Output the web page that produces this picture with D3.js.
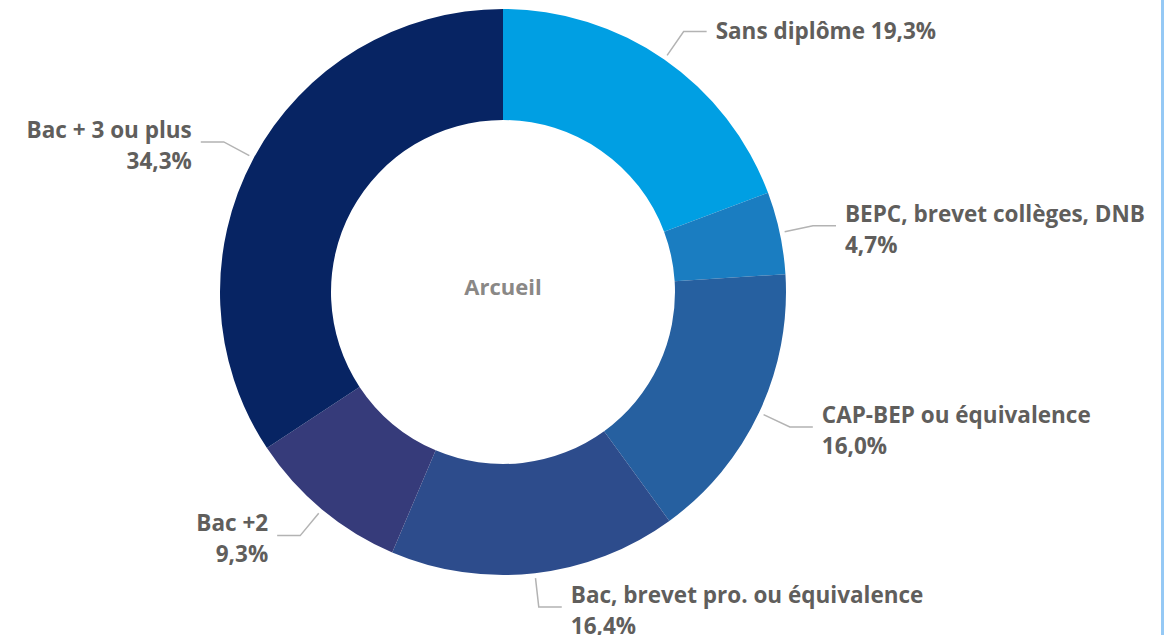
<!DOCTYPE html>
<html>
<head>
<meta charset="utf-8">
<script src="https://cdn.jsdelivr.net/npm/d3@7"></script>
<style>
  body { margin: 0; background: #ffffff; }
  svg text { font-family: "Open Sans", "Noto Sans", sans-serif; font-weight: 700; }
</style>
</head>
<body>
<svg id="chart" width="1166" height="635"></svg>
<script>
// données
const categories = ["Sans diplôme", "BEPC, brevet collèges, DNB", "CAP-BEP ou équivalence", "Bac, brevet pro. ou équivalence", "Bac +2", "Bac + 3 ou plus"];
const values = [19.3, 4.7, 16.0, 16.4, 9.3, 34.3];
const labelLines = [
  ["Sans diplôme 19,3%"],
  ["BEPC, brevet collèges, DNB", "4,7%"],
  ["CAP-BEP ou équivalence", "16,0%"],
  ["Bac, brevet pro. ou équivalence", "16,4%"],
  ["Bac +2", "9,3%"],
  ["Bac + 3 ou plus", "34,3%"]
];
const colors = ["#009fe3", "#1a7dc1", "#2660a0", "#2d4c8c", "#363b7a", "#072463"];
const centerTitle = "Arcueil";

const width = 1166;
const height = 635;
const cx = 503, cy = 292;
const outerR = 283, innerR = 172;

const svg = d3.select("#chart");

// barre bleue à droite
svg.append("rect")
  .attr("x", 1161).attr("y", 0)
  .attr("width", 3).attr("height", height)
  .attr("fill", "#95c9f5");

const g = svg.append("g").attr("transform", `translate(${cx}, ${cy})`);

const pie = d3.pie().sort(null).value(d => d);
const arcs = pie(values);

const arc = d3.arc().innerRadius(innerR).outerRadius(outerR);

g.selectAll("path.slice")
  .data(arcs)
  .enter()
  .append("path")
  .attr("class", "slice")
  .attr("d", arc)
  .attr("fill", (d, i) => colors[i]);

// lignes de rappel + étiquettes
const startArc = d3.arc().innerRadius(outerR + 5).outerRadius(outerR + 5);
const elbowArc = d3.arc().innerRadius(outerR + 34).outerRadius(outerR + 34);

arcs.forEach((d, i) => {
  const mid = (d.startAngle + d.endAngle) / 2;
  const right = mid < Math.PI;
  const p1 = startArc.centroid(d);
  const p2 = elbowArc.centroid(d);
  const p3 = [p2[0] + (right ? 23 : -23), p2[1]];

  g.append("polyline")
    .attr("points", [p1, p2, p3].map(p => p.join(",")).join(" "))
    .attr("fill", "none")
    .attr("stroke", "#b3b3b3")
    .attr("stroke-width", 1.5);

  const lines = labelLines[i];
  const tx = p3[0] + (right ? 9 : -9);
  const t = g.append("text")
    .attr("text-anchor", right ? "start" : "end")
    .attr("fill", "#605e5c")
    .attr("font-size", "22.5px");
  lines.forEach((line, j) => {
    let y;
    if (lines.length === 1) y = p3[1];
    else y = p3[1] + (j === 0 ? -12 : 19);
    t.append("tspan")
      .attr("x", tx)
      .attr("y", y)
      .attr("dy", "0.35em")
      .text(line);
  });
});

g.append("text")
  .attr("text-anchor", "middle")
  .attr("y", -5)
  .attr("dy", "0.35em")
  .attr("fill", "#8a8886")
  .attr("font-size", "22px")
  .text(centerTitle);
</script>
</body>
</html>
